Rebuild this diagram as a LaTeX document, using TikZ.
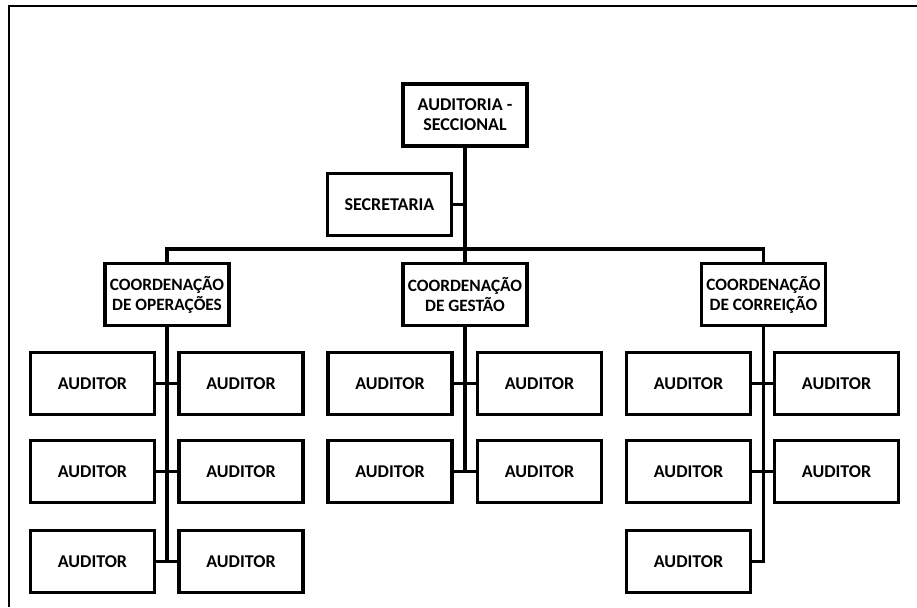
\documentclass[tikz,border=0pt]{standalone}
\usepackage{fontspec}
\setmainfont{Carlito}
\begin{document}
\begin{tikzpicture}[x=1pt,y=-1pt,
  orgbox/.style={draw=black, line width=3.4pt, fill=white, rectangle,
    minimum width=124pt, minimum height=62pt, inner sep=0pt, align=center,
    font=\fontsize{18}{20}\selectfont\bfseries},
  coordbox/.style={orgbox, font=\fontsize{17.3}{20}\selectfont\bfseries},
  link/.style={line width=3.8pt, line cap=rect}]
\useasboundingbox (0,0) rectangle (917,607);
% outer frame (left and top edges)
\draw[line width=1.8pt] (9,607) -- (9,6) -- (917,6);

% head and staff
\node[orgbox] (top) at (465,115) {AUDITORIA -\\SECCIONAL};
\node[orgbox] (sec) at (389.5,204.5) {SECRETARIA};

% coordinations
\node[coordbox] (op)  at (167,294.5) {COORDENAÇÃO\\DE OPERAÇÕES};
\node[coordbox] (ges) at (465,294.5) {COORDENAÇÃO\\DE GESTÃO};
\node[coordbox] (cor) at (763.5,294.5) {COORDENAÇÃO\\DE CORREIÇÃO};

% auditors, operations
\node[orgbox] (o1l) at (92.5,383.5) {AUDITOR};
\node[orgbox] (o1r) at (241,383.5) {AUDITOR};
\node[orgbox] (o2l) at (92.5,471.5) {AUDITOR};
\node[orgbox] (o2r) at (241,471.5) {AUDITOR};
\node[orgbox] (o3l) at (92.5,561.5) {AUDITOR};
\node[orgbox] (o3r) at (241,561.5) {AUDITOR};

% auditors, management
\node[orgbox] (g1l) at (390,383.5) {AUDITOR};
\node[orgbox] (g1r) at (539.5,383.5) {AUDITOR};
\node[orgbox] (g2l) at (390,471.5) {AUDITOR};
\node[orgbox] (g2r) at (539.5,471.5) {AUDITOR};

% auditors, correction
\node[orgbox] (c1l) at (688.5,383.5) {AUDITOR};
\node[orgbox] (c1r) at (836.5,383.5) {AUDITOR};
\node[orgbox] (c2l) at (688.5,471.5) {AUDITOR};
\node[orgbox] (c2r) at (836.5,471.5) {AUDITOR};
\node[orgbox] (c3l) at (688.5,561.5) {AUDITOR};

% bus bar
\coordinate (busL) at (op.north |- 0,249);
\coordinate (busM) at (top.south |- 0,249);
\coordinate (busR) at (cor.north |- 0,249);

\draw[link] (top.south) -- (busM);
\draw[link] (sec.east) -- (sec.east -| top.south);
\draw[link] (busL) -- (busR);
\draw[link] (busL) -- (op.north);
\draw[link] (busM) -- (ges.north);
\draw[link] (busR) -- (cor.north);

% operations trunk
\draw[link] (op.south) -- (op.south |- o3l.east);
\draw[link] (o1l.east) -- (o1r.west);
\draw[link] (o2l.east) -- (o2r.west);
\draw[link] (o3l.east) -- (o3r.west);

% management trunk
\draw[link] (ges.south) -- (ges.south |- g2l.east);
\draw[link] (g1l.east) -- (g1r.west);
\draw[link] (g2l.east) -- (g2r.west);

% correction trunk
\draw[link] (cor.south) -- (cor.south |- c3l.east);
\draw[link] (c1l.east) -- (c1r.west);
\draw[link] (c2l.east) -- (c2r.west);
\draw[link] (c3l.east) -- (c3l.east -| cor.south);
\end{tikzpicture}
\end{document}
